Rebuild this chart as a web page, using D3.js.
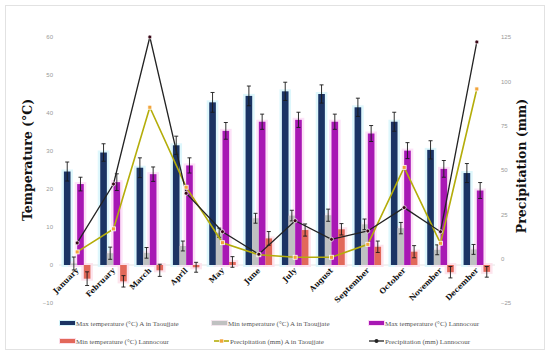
<!DOCTYPE html>
<html><head><meta charset="utf-8">
<script src="https://cdn.jsdelivr.net/npm/d3@7"></script>
<style>body{margin:0;background:#fff}svg{display:block}</style>
</head><body>
<script>
const months = ["January","February","March","April","May","June","July","August","September","October","November","December"];
const maxTaou = [24.6,29.6,25.6,31.5,42.8,44.5,45.7,45.0,41.5,37.7,30.3,24.2];
const maxTaouErr = [2.5,2.3,2.6,2.4,2.6,2.6,2.4,2.4,2.4,2.5,2.4,2.5];
const minTaou = [0.4,3.1,3.2,5.0,8.5,12.3,13.0,13.1,10.7,9.7,4.0,4.1];
const minTaouErr = [1.7,1.6,1.4,1.3,1.2,1.3,1.4,1.6,1.4,1.5,1.3,1.3];
const maxLann = [21.3,21.8,23.9,26.2,35.3,37.7,38.2,37.7,34.6,30.1,25.3,19.6];
const maxLannErr = [1.8,2.2,1.9,2.0,2.2,2.0,2.0,2.0,2.1,2.1,2.2,2.1];
const minLann = [-3.6,-4.3,-1.4,-0.6,0.8,7.0,9.2,9.4,4.8,3.5,-1.9,-1.8];
const minLannErr = [1.8,1.5,1.6,1.3,1.4,1.8,1.6,1.5,1.5,1.6,1.5,1.4];
const precTaou = [3.8,16.8,85.4,40.3,9.0,2.2,0.8,0.8,8.1,51.5,8.7,95.7];
const precLann = [8.9,42.1,125,36.9,15.2,2.5,21.4,10.9,15.6,28.8,15.2,122.2];
const tempTicks = [-10,0,10,20,30,40,50,60];
const precTicks = [-25,0,25,50,75,100,125];
const legendLabels = ["Max temperature (°C) A in Taoujjate","Min temperature (°C) A in Taoujjate","Max temperature (°C) Lannocour","Min temperature (°C) Lannocour","Precipitation (mm) A in Taoujjate","Precipitation (mm) Lannocour"];

const W=550,H=355;
const svg=d3.select("body").append("svg").attr("width",W).attr("height",H);
svg.append("rect").attr("x",5.5).attr("y",5.5).attr("width",539).attr("height",344).attr("fill","#fff").attr("stroke","#e2e2e2");

const x0=d3.scaleBand().domain(months).range([59,495]).paddingInner(0).paddingOuter(0);
const series=[
 {v:maxTaou,e:maxTaouErr,c:"#1b3464",g:"#d6f5fb"},
 {v:minTaou,e:minTaouErr,c:"#bfc1c1",g:"#f3e6ee"},
 {v:maxLann,e:maxLannErr,c:"#a818b4",g:"#fcdaf6"},
 {v:minLann,e:minLannErr,c:"#e2685a",g:"#fcdde8"}
];
const x1=d3.scaleBand().domain(d3.range(4)).range([x0.bandwidth()*0.135,x0.bandwidth()*0.865]);
const yT=d3.scaleLinear().domain([-10,60]).range([303,37]);
const yP=d3.scaleLinear().domain([-25,125]).range([303,37]);

// zero line
svg.append("line").attr("x1",59).attr("x2",495).attr("y1",yT(0)).attr("y2",yT(0)).attr("stroke","#e6e6e6").attr("stroke-width",1);

// axes ticks
const axL=svg.append("g").attr("transform","translate(53,0)").call(d3.axisLeft(yT).tickValues(tempTicks).tickSize(0).tickPadding(0));
axL.select(".domain").remove();
axL.selectAll("text").attr("fill","#999").attr("font-size","6px").attr("font-family","Liberation Sans, Arial");
const axR=svg.append("g").attr("transform","translate(501,0)").call(d3.axisRight(yP).tickValues(precTicks).tickSize(0).tickPadding(0));
axR.select(".domain").remove();
axR.selectAll("text").attr("fill","#999").attr("font-size","6px").attr("font-family","Liberation Sans, Arial");

// glows
const bw=x1.bandwidth();
series.forEach((s,i)=>{
  svg.append("g").selectAll("rect").data(months).join("rect")
   .attr("x",m=>x0(m)+x1(i)-2.5).attr("width",bw+5)
   .attr("y",(m,j)=>Math.min(yT(s.v[j]),yT(0))-2)
   .attr("height",(m,j)=>Math.abs(yT(s.v[j])-yT(0))+4)
   .attr("fill",s.g).attr("opacity",0.8);
});
series.forEach((s,i)=>{
  svg.append("g").selectAll("rect").data(months).join("rect")
   .attr("x",m=>x0(m)+x1(i)).attr("width",bw)
   .attr("y",(m,j)=>Math.min(yT(s.v[j]),yT(0)))
   .attr("height",(m,j)=>Math.abs(yT(s.v[j])-yT(0)))
   .attr("fill",s.c);
});
// error bars
series.forEach((s,i)=>{
  const g=svg.append("g").attr("stroke","#1a1a1a").attr("stroke-width",0.9);
  months.forEach((m,j)=>{
    const cx=x0(m)+x1(i)+bw/2, a=yT(s.v[j]-s.e[j]), b=yT(s.v[j]+s.e[j]);
    g.append("line").attr("x1",cx).attr("x2",cx).attr("y1",a).attr("y2",b);
    g.append("line").attr("x1",cx-2).attr("x2",cx+2).attr("y1",a).attr("y2",a);
    g.append("line").attr("x1",cx-2).attr("x2",cx+2).attr("y1",b).attr("y2",b);
  });
});

// lines
const cx=m=>x0(m)+x0.bandwidth()/2;
const lineT=d3.line().x((d,j)=>cx(months[j])).y(d=>yP(d));
svg.append("path").attr("d",lineT(precTaou)).attr("fill","none").attr("stroke","#b4ad0a").attr("stroke-width",1.6);
svg.append("path").attr("d",lineT(precLann)).attr("fill","none").attr("stroke","#232323").attr("stroke-width",1.3);
svg.append("g").selectAll("rect").data(precTaou).join("rect")
  .attr("x",(d,j)=>cx(months[j])-2).attr("y",d=>yP(d)-2).attr("width",4).attr("height",4)
  .attr("fill","#f2a33a").attr("stroke","#fff").attr("stroke-width",0.8);
svg.append("g").selectAll("circle").data(precLann).join("circle")
  .attr("cx",(d,j)=>cx(months[j])).attr("cy",d=>yP(d)).attr("r",2)
  .attr("fill","#3a0818").attr("stroke","#fff").attr("stroke-width",0.7);

// month labels
svg.append("g").selectAll("text").data(months).join("text")
  .attr("transform",m=>`translate(${cx(m)+2},${271}) rotate(-45)`)
  .attr("text-anchor","end").attr("font-family","DejaVu Serif, serif").attr("font-weight","bold")
  .attr("font-size","7.5px").attr("fill","#111").text(m=>m);

// axis titles
svg.append("text").attr("transform","translate(32,160) rotate(-90)").attr("text-anchor","middle")
 .attr("font-family","DejaVu Serif, serif").attr("font-weight","bold").attr("font-size","12.5px").attr("fill","#111").text("Temperature (°C)");
svg.append("text").attr("transform","translate(526,166) rotate(-90)").attr("text-anchor","middle")
 .attr("font-family","DejaVu Serif, serif").attr("font-weight","bold").attr("font-size","12.5px").attr("fill","#111").text("Precipitation (mm)");

// legend
const lg=[{x:60,y:323,t:"bar",c:series[0].c,g:series[0].g},{x:212,y:323,t:"bar",c:series[1].c,g:series[1].g},{x:369,y:323,t:"bar",c:series[2].c,g:series[2].g},
 {x:60,y:341,t:"bar",c:series[3].c,g:series[3].g},{x:214,y:341,t:"lineY"},{x:369,y:341,t:"lineK"}];
lg.forEach((d,i)=>{
  const g=svg.append("g").attr("transform",`translate(${d.x},${d.y})`);
  if(d.t==="bar"){
    g.append("rect").attr("x",-1).attr("y",-3).attr("width",17).attr("height",6).attr("fill",d.g);
    g.append("rect").attr("x",0).attr("y",-2).attr("width",15).attr("height",4).attr("fill",d.c);
  } else if(d.t==="lineY"){
    g.append("line").attr("x1",0).attr("x2",15).attr("stroke","#b4ad0a").attr("stroke-width",1.6);
    g.append("rect").attr("x",5.5).attr("y",-2).attr("width",4).attr("height",4).attr("fill","#f2a33a").attr("stroke","#fff").attr("stroke-width",0.6);
  } else {
    g.append("line").attr("x1",0).attr("x2",15).attr("stroke","#232323").attr("stroke-width",1.3);
    g.append("circle").attr("cx",7.5).attr("r",2).attr("fill","#232323");
  }
  g.append("text").attr("x",16).attr("y",2.5).attr("font-family","Liberation Serif, serif").attr("font-size","7px").attr("fill","#555").text(legendLabels[i]);
});
</script>
</body></html>
